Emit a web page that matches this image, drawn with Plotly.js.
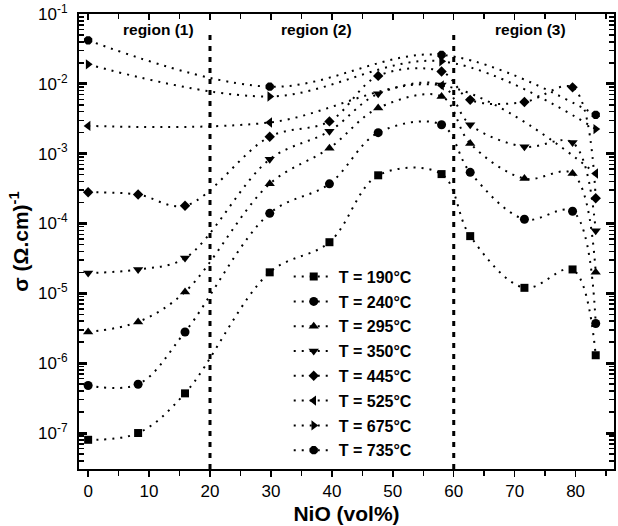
<!DOCTYPE html>
<html>
<head>
<meta charset="utf-8">
<script src="https://cdn.plot.ly/plotly-3.0.1.min.js"></script>
<style>html,body{margin:0;padding:0;background:#fff;}#chart{width:618px;height:526px;}</style>
</head>
<body>
<div id="chart"></div>
<script>
// NiO content (vol%)
const xFull = [0, 8.2, 15.9, 29.8, 39.6, 47.6, 58, 62.7, 71.6, 79.5, 83.3];
const xHigh = [0, 29.8, 58, 83.3];

// conductivity sigma (ohm.cm)^-1
const s190 = [8.0e-8, 1.0e-7, 3.7e-7, 2.0e-5, 5.4e-5, 4.9e-4, 5.1e-4, 6.6e-5, 1.2e-5, 2.2e-5, 1.3e-6];
const s240 = [4.8e-7, 5.0e-7, 2.8e-6, 1.4e-4, 3.7e-4, 2.0e-3, 2.6e-3, 5.4e-4, 1.15e-4, 1.5e-4, 3.7e-6];
const s295 = [2.8e-6, 3.9e-6, 1.05e-5, 3.7e-4, 1.2e-3, 4.5e-3, 6.6e-3, 1.4e-3, 4.4e-4, 5.2e-4, 2.0e-5];
const s350 = [1.95e-5, 2.2e-5, 3.2e-5, 8.3e-4, 2.1e-3, 7.2e-3, 9.6e-3, 2.6e-3, 1.26e-3, 1.44e-3, 7.9e-5];
const s445 = [2.8e-4, 2.6e-4, 1.8e-4, 1.75e-3, 2.9e-3, 1.3e-2, 1.5e-2, 5.9e-3, 5.5e-3, 8.9e-3, 2.3e-4];
const s525 = [2.5e-3, 2.8e-3, 9.5e-3, 5.2e-4];
const s675 = [1.9e-2, 6.6e-3, 2.1e-2, 2.25e-3];
const s735 = [4.2e-2, 9.1e-3, 2.6e-2, 3.6e-3];

const seriesNames = ['T = 190°C','T = 240°C','T = 295°C','T = 350°C','T = 445°C','T = 525°C','T = 675°C','T = 735°C'];
const seriesSymbols = ['square','circle','triangle-up','triangle-down','diamond','triangle-left','triangle-right','octagon'];

const yTickVals = [1e-7, 1e-6, 1e-5, 1e-4, 1e-3, 1e-2, 1e-1];
const yTickText = ['10<sup>-7</sup>','10<sup>-6</sup>','10<sup>-5</sup>','10<sup>-4</sup>','10<sup>-3</sup>','10<sup>-2</sup>','10<sup>-1</sup>'];

const regionLabels = ['region (1)', 'region (2)', 'region (3)'];
const regionX = [11.6, 37.5, 72.6];
const boundaries = [20, 60];

const FONT = '"Liberation Sans", Arial, Helvetica, sans-serif';
const ys = [s190, s240, s295, s350, s445, s525, s675, s735];
const xs = [xFull, xFull, xFull, xFull, xFull, xHigh, xHigh, xHigh];
const symSize = {square: 8, circle: 9, 'triangle-up': 9, 'triangle-down': 9, diamond: 8, 'triangle-left': 9, 'triangle-right': 9, octagon: 9};

const traces = ys.map((y, i) => ({
  x: xs[i], y: y, name: seriesNames[i], type: 'scatter', mode: 'lines+markers',
  legendgroup: 'g' + i,
  line: {shape: 'spline', smoothing: 1, color: 'black', width: 2, dash: '2px,6px'},
  marker: {symbol: seriesSymbols[i], color: 'black', size: symSize[seriesSymbols[i]]}
}));

// top axis (inward ticks, no labels)
traces.push({x: [0], y: [1e-3], xaxis: 'x2', yaxis: 'y', mode: 'markers', marker: {opacity: 0}, showlegend: false, hoverinfo: 'skip'});

const shapes = boundaries.map(b => ({
  type: 'line', xref: 'x', yref: 'paper', x0: b, x1: b, y0: 0, y1: 0.965,
  line: {color: 'black', width: 3, dash: '5px,6px'}
}));

const annotations = regionLabels.map((t, i) => ({
  text: '<b>' + t + '</b>', x: regionX[i], y: 0.967, xref: 'x', yref: 'paper',
  showarrow: false, font: {family: FONT, size: 15.5, color: 'black'}, yanchor: 'middle'
}));

const layout = {
  width: 618, height: 526,
  margin: {l: 79, r: 4, t: 14, b: 57},
  paper_bgcolor: 'white', plot_bgcolor: 'white',
  font: {family: FONT, color: 'black'},
  showlegend: true,
  legend: {
    x: 0.392, y: 0.46, xanchor: 'left', yanchor: 'top',
    bgcolor: 'rgba(0,0,0,0)', borderwidth: 0,
    font: {family: FONT, size: 16, color: 'black', weight: 'bold'},
    traceorder: 'grouped', tracegroupgap: 1, itemwidth: 40
  },
  xaxis: {
    range: [-1.5, 86.3], showgrid: false, zeroline: false,
    showline: true, linecolor: 'black', linewidth: 2, mirror: true,
    ticks: 'outside', ticklen: 6, tickwidth: 1.5, tickcolor: 'black',
    dtick: 10, tick0: 0,
    minor: {ticks: 'outside', ticklen: 5, tickwidth: 1.5, dtick: 5, tickcolor: 'black'},
    tickfont: {family: FONT, size: 17, color: 'black'},
    title: {text: '<b>NiO (vol%)</b>', font: {family: FONT, size: 21, color: 'black'}, standoff: 6}
  },
  xaxis2: {
    overlaying: 'x', side: 'top', matches: 'x', range: [-1.5, 86.3],
    showgrid: false, zeroline: false, showticklabels: false,
    ticks: 'inside', ticklen: 6, tickwidth: 1.5, tickcolor: 'black',
    dtick: 10, tick0: 0,
    minor: {ticks: 'inside', ticklen: 5, tickwidth: 1.5, dtick: 5, tickcolor: 'black'}
  },
  yaxis: {
    type: 'log', range: [-7.515, -1], showgrid: false, zeroline: false,
    showline: true, linecolor: 'black', linewidth: 2, mirror: 'ticks',
    ticks: 'inside', ticklen: 8, tickwidth: 3, tickcolor: 'black',
    tickmode: 'array', tickvals: yTickVals, ticktext: yTickText,
    minor: {ticks: 'inside', ticklen: 5, tickwidth: 1.5, tickcolor: 'black', dtick: 'D1'},
    ticklabelstandoff: 6,
    tickfont: {family: FONT, size: 17, color: 'black'},
    title: {text: '<b>σ (Ω.cm)<sup>-1</sup></b>', font: {family: FONT, size: 21, color: 'black'}, standoff: 4}
  },
  shapes: shapes,
  annotations: annotations
};

Plotly.newPlot('chart', traces, layout, {displayModeBar: false, staticPlot: true});
</script>
</body>
</html>
